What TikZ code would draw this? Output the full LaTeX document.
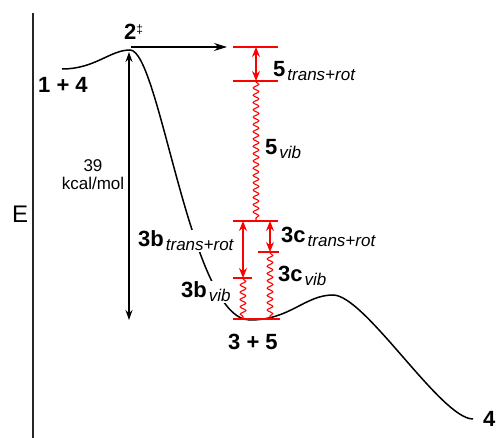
\documentclass[tikz,border=0pt]{standalone}
\usepackage{fontspec}
\setmainfont{Liberation Sans}
\usetikzlibrary{arrows.meta,decorations.pathmorphing}
\newcommand\lsub[1]{\hspace{2pt}\raisebox{-4pt}{\fontsize{17}{17}\selectfont\mdseries\itshape #1}}
\tikzset{
  lbl/.style={font=\fontsize{22}{24}\selectfont\bfseries, inner sep=1pt, fill=white, anchor=base west},
  plain/.style={font=\fontsize{17}{19}\selectfont, inner sep=1pt, anchor=base},
  curveline/.style={line width=1.5pt, black},
  level/.style={red, line width=1.3pt},
  redarrow/.style={red, line width=1.3pt, {Stealth[length=10pt,width=8pt]}-{Stealth[length=10pt,width=8pt]}},
  wave/.style={red, line width=1.1pt, decorate, decoration={snake, segment length=7.3pt, amplitude=2.8pt}},
  blackarrow/.style={line width=1.2pt, -{Stealth[length=13pt,width=8pt]}},
  blackdbl/.style={line width=1.2pt, {Stealth[length=10pt,width=7pt]}-{Stealth[length=10pt,width=7pt]}}
}
\begin{document}
\begin{tikzpicture}[x=1pt,y=-1pt]
\useasboundingbox[fill=white] (0,0) rectangle (501,438);
% axis
\coordinate (axtop) at (33,13);
\coordinate (axbot) at (33,438);
\draw[line width=1.6pt, black!85] (axtop) -- (axbot);
\node[font=\fontsize{24}{26}\selectfont, inner sep=0pt, anchor=base west] (E) at (12,223) {E};
% energy profile
\draw[curveline] (62,69) .. controls (95,69) and (110,50) .. (130,50)
  .. controls (160,50) and (190,320) .. (250,320)
  .. controls (290,320) and (305,295) .. (333,295)
  .. controls (365,295) and (441,419) .. (473,419);
% labels
\node[lbl] (r14) at (37,93) {1 + 4};
\node[lbl, fill=none] (ts) at (123,40) {2\raisebox{6pt}{\fontsize{12}{12}\selectfont\mdseries ‡}};
\node[lbl] (p5tr) at (272,77) {5\lsub{trans+rot}};
\node[lbl] (p5v) at (264,155) {5\lsub{vib}};
\node[lbl] (p3btr) at (137,247) {3b\lsub{trans+rot}};
\node[lbl] (p3ctr) at (280,243) {3c\lsub{trans+rot}};
\node[lbl] (p3cv) at (277,282) {3c\lsub{vib}};
\node[lbl] (p3bv) at (180,298) {3b\lsub{vib}};
\node[lbl] (p35) at (227,350) {3 + 5};
\node[lbl] (p4) at (482,426) {4};
\node[plain] (n39) at (93,172) {39};
\node[plain] (nkcal) at (93,190) {kcal/mol};
% black arrows
\coordinate (peak) at (131,47);
\coordinate (hend) at (227,47);
\draw[blackarrow] (peak) -- (hend);
\coordinate (vtop) at (129,52);
\coordinate (vbot) at (129,320);
\draw[blackdbl] (vtop) -- (vbot);
% red levels
\coordinate (a1) at (233,47);  \coordinate (b1) at (278,47);
\coordinate (a2) at (233,81);  \coordinate (b2) at (278,81);
\coordinate (a3) at (233,221); \coordinate (b3) at (278,221);
\coordinate (a4) at (233,278); \coordinate (b4) at (252,278);
\coordinate (a5) at (258,252); \coordinate (b5) at (279,252);
\coordinate (a6) at (233,319); \coordinate (b6) at (280,319);
\draw[level] (a1) -- (b1);
\draw[level] (a2) -- (b2);
\draw[level] (a3) -- (b3);
\draw[level] (a4) -- (b4);
\draw[level] (a5) -- (b5);
\draw[level] (a6) -- (b6);
% red arrows
\coordinate (u1) at (256,47);  \coordinate (d1) at (256,81);
\coordinate (u2) at (243,221); \coordinate (d2) at (243,278);
\coordinate (u3) at (270,221); \coordinate (d3) at (270,252);
\draw[redarrow] (u1) -- (d1);
\draw[redarrow] (u2) -- (d2);
\draw[redarrow] (u3) -- (d3);
% vibrational waves
\coordinate (w1s) at (256,82);  \coordinate (w1e) at (256,220);
\coordinate (w2s) at (243,279); \coordinate (w2e) at (243,318);
\coordinate (w3s) at (270,253); \coordinate (w3e) at (270,318);
\draw[wave] (w1s) -- (w1e);
\draw[wave] (w2s) -- (w2e);
\draw[wave] (w3s) -- (w3e);
\end{tikzpicture}
\end{document}
